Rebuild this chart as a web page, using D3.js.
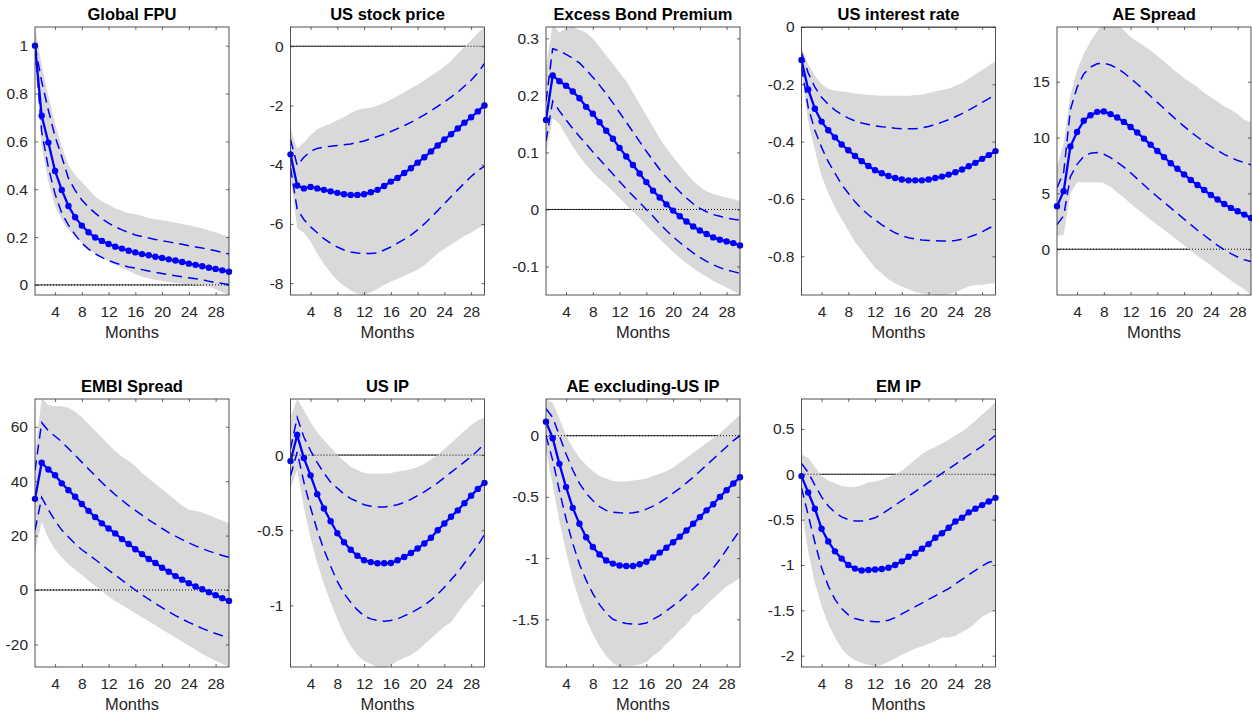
<!DOCTYPE html>
<html>
<head>
<meta charset="utf-8">
<script src="https://cdn.jsdelivr.net/npm/d3@7"></script>
<style>
  body { margin: 0; background: #fff; }
  svg { display: block; font-family: "Liberation Sans", Arial, Helvetica, sans-serif; }
  .tick text { fill: #262626; font-size: 15.5px; }
  .tick line { stroke: #262626; stroke-width: 0.7; }
</style>
</head>
<body>
<script>
// horizon (months)
var months = d3.range(1, 31);
var xTicks = [4, 8, 12, 16, 20, 24, 28];

// Global FPU
var fpuMed  = [1.0,0.707,0.595,0.476,0.397,0.33,0.283,0.248,0.22,0.198,0.184,0.171,0.16,0.152,0.143,0.136,0.129,0.124,0.118,0.113,0.107,0.102,0.096,0.089,0.084,0.078,0.072,0.067,0.061,0.055];
var fpuHi68 = [1.0,0.85,0.73,0.62,0.536,0.445,0.395,0.355,0.325,0.30,0.277,0.258,0.243,0.23,0.219,0.209,0.202,0.196,0.19,0.185,0.18,0.175,0.17,0.164,0.159,0.154,0.148,0.143,0.136,0.129];
var fpuLo68 = [1.0,0.64,0.49,0.38,0.30,0.25,0.21,0.175,0.15,0.13,0.115,0.102,0.092,0.083,0.075,0.07,0.064,0.058,0.053,0.048,0.043,0.038,0.034,0.03,0.026,0.022,0.015,0.01,0.006,0.002];
var fpuHi90 = [1.075,0.92,0.79,0.675,0.58,0.50,0.46,0.43,0.40,0.37,0.35,0.335,0.32,0.31,0.30,0.295,0.288,0.28,0.275,0.27,0.265,0.26,0.255,0.25,0.243,0.236,0.228,0.22,0.21,0.20];
var fpuLo90 = [0.95,0.58,0.43,0.33,0.27,0.23,0.205,0.175,0.15,0.132,0.115,0.1,0.085,0.072,0.058,0.045,0.035,0.027,0.021,0.016,0.012,0.008,0.005,0.003,0.001,-0.002,-0.008,-0.018,-0.03,-0.042];

// US stock price
var stkMed  = [-3.65,-4.7,-4.8,-4.75,-4.8,-4.85,-4.9,-4.95,-5.0,-5.02,-5.02,-5.0,-4.93,-4.85,-4.72,-4.57,-4.45,-4.28,-4.12,-3.93,-3.75,-3.55,-3.35,-3.15,-2.97,-2.78,-2.58,-2.4,-2.2,-2.0];
var stkHi68 = [-3.15,-4.02,-3.75,-3.55,-3.45,-3.4,-3.38,-3.35,-3.33,-3.3,-3.25,-3.2,-3.12,-3.05,-2.97,-2.88,-2.78,-2.68,-2.57,-2.45,-2.32,-2.18,-2.03,-1.88,-1.72,-1.55,-1.35,-1.15,-0.9,-0.58];
var stkLo68 = [-4.1,-5.5,-5.85,-6.1,-6.3,-6.5,-6.65,-6.78,-6.88,-6.95,-6.98,-7.0,-7.0,-6.98,-6.88,-6.78,-6.65,-6.52,-6.38,-6.2,-6.0,-5.78,-5.55,-5.32,-5.08,-4.85,-4.62,-4.4,-4.2,-4.05];
var stkHi90 = [-2.8,-3.45,-3.25,-3.0,-2.8,-2.7,-2.62,-2.5,-2.4,-2.25,-2.15,-2.1,-2.08,-2.0,-1.92,-1.8,-1.68,-1.55,-1.42,-1.3,-1.15,-1.0,-0.85,-0.68,-0.5,-0.25,-0.02,0.2,0.45,0.65];
var stkLo90 = [-4.4,-6.15,-6.3,-6.6,-7.0,-7.35,-7.65,-7.9,-8.1,-8.25,-8.35,-8.4,-8.3,-8.2,-8.05,-7.95,-7.85,-7.75,-7.65,-7.55,-7.4,-7.2,-7.0,-6.85,-6.7,-6.55,-6.4,-6.3,-6.15,-6.05];

// Excess Bond Premium
var ebpMed  = [0.157,0.235,0.225,0.217,0.207,0.195,0.18,0.168,0.153,0.138,0.124,0.108,0.093,0.078,0.063,0.048,0.033,0.021,0.009,-0.002,-0.012,-0.021,-0.03,-0.037,-0.043,-0.049,-0.053,-0.056,-0.059,-0.063];
var ebpHi68 = [0.19,0.282,0.278,0.272,0.265,0.257,0.245,0.232,0.218,0.203,0.187,0.17,0.153,0.136,0.119,0.102,0.086,0.07,0.056,0.043,0.031,0.02,0.01,0.002,-0.004,-0.009,-0.012,-0.015,-0.017,-0.019];
var ebpLo68 = [0.12,0.19,0.173,0.157,0.142,0.128,0.115,0.101,0.088,0.075,0.062,0.049,0.036,0.024,0.012,0.0,-0.012,-0.025,-0.037,-0.048,-0.058,-0.067,-0.076,-0.084,-0.091,-0.097,-0.102,-0.106,-0.109,-0.112];
var ebpHi90 = [0.25,0.325,0.31,0.318,0.32,0.315,0.31,0.3,0.285,0.27,0.255,0.24,0.225,0.205,0.185,0.165,0.145,0.125,0.108,0.092,0.077,0.063,0.05,0.04,0.032,0.027,0.024,0.021,0.018,0.015];
var ebpLo90 = [0.095,0.16,0.15,0.13,0.11,0.093,0.078,0.065,0.053,0.043,0.032,0.02,0.008,-0.004,-0.015,-0.028,-0.04,-0.052,-0.063,-0.074,-0.085,-0.094,-0.103,-0.111,-0.118,-0.125,-0.131,-0.137,-0.143,-0.15];

// US interest rate
var irMed  = [-0.115,-0.218,-0.285,-0.33,-0.36,-0.385,-0.41,-0.43,-0.45,-0.468,-0.485,-0.5,-0.51,-0.52,-0.527,-0.532,-0.535,-0.535,-0.535,-0.532,-0.527,-0.522,-0.515,-0.507,-0.497,-0.486,-0.474,-0.46,-0.447,-0.433];
var irHi68 = [-0.09,-0.16,-0.21,-0.245,-0.27,-0.29,-0.305,-0.318,-0.328,-0.335,-0.34,-0.345,-0.348,-0.35,-0.353,-0.355,-0.355,-0.355,-0.352,-0.347,-0.34,-0.332,-0.323,-0.313,-0.302,-0.29,-0.277,-0.263,-0.25,-0.235];
var irLo68 = [-0.14,-0.28,-0.36,-0.42,-0.47,-0.51,-0.55,-0.58,-0.61,-0.635,-0.655,-0.673,-0.69,-0.705,-0.718,-0.728,-0.735,-0.74,-0.743,-0.745,-0.746,-0.747,-0.747,-0.745,-0.74,-0.733,-0.725,-0.714,-0.702,-0.69];
var irHi90 = [-0.07,-0.13,-0.17,-0.2,-0.215,-0.222,-0.225,-0.228,-0.232,-0.235,-0.237,-0.238,-0.24,-0.24,-0.24,-0.24,-0.24,-0.237,-0.236,-0.23,-0.225,-0.22,-0.215,-0.205,-0.195,-0.18,-0.165,-0.15,-0.135,-0.12];
var irLo90 = [-0.16,-0.33,-0.43,-0.52,-0.58,-0.63,-0.67,-0.71,-0.75,-0.78,-0.81,-0.84,-0.86,-0.88,-0.895,-0.905,-0.915,-0.925,-0.93,-0.932,-0.935,-0.935,-0.932,-0.925,-0.915,-0.905,-0.9,-0.9,-0.895,-0.895];

// AE Spread
var aesMed  = [3.85,5.2,9.2,10.5,11.5,12.0,12.3,12.33,12.1,11.8,11.4,10.95,10.45,9.9,9.35,8.8,8.25,7.7,7.2,6.7,6.2,5.75,5.3,4.85,4.45,4.05,3.7,3.4,3.1,2.8];
var aesHi68 = [5.5,6.9,12.5,14.5,15.7,16.3,16.6,16.65,16.5,16.2,15.8,15.3,14.8,14.25,13.7,13.15,12.6,12.05,11.5,11.0,10.5,10.05,9.6,9.2,8.85,8.5,8.2,7.95,7.75,7.55];
var aesLo68 = [2.2,3.0,6.5,7.6,8.3,8.6,8.65,8.5,8.2,7.8,7.35,6.85,6.3,5.75,5.2,4.7,4.2,3.7,3.2,2.7,2.2,1.7,1.25,0.8,0.35,-0.05,-0.4,-0.7,-0.95,-1.1];
var aesHi90 = [7.4,9.5,13.8,16.0,17.5,18.6,19.5,20.3,20.4,20.2,19.6,19.0,18.6,18.2,17.8,17.3,16.8,16.3,15.8,15.3,14.9,14.5,14.0,13.6,13.2,12.8,12.5,12.1,11.6,11.4];
var aesLo90 = [1.2,1.3,5.0,6.0,6.0,6.0,6.0,5.9,5.6,5.1,4.6,4.1,3.6,3.1,2.65,2.2,1.75,1.3,0.8,0.35,-0.15,-0.6,-1.0,-1.45,-1.9,-2.35,-2.8,-3.2,-3.6,-4.1];

// EMBI Spread
var embiMed  = [33.5,46.8,44.3,42.2,39.2,36.7,34.3,31.6,29.1,26.8,24.5,22.6,20.8,18.7,16.9,15.0,13.2,11.4,9.9,8.2,6.7,5.1,3.8,2.5,1.3,0.3,-0.8,-1.9,-3.0,-4.0];
var embiHi68 = [44,61.5,58.5,56.5,54.5,52,49.5,47,44.5,42,39.5,37.2,35,33,31,29.3,27.5,25.8,24.2,22.6,21.1,19.8,18.5,17.3,16.2,15.2,14.3,13.5,12.7,12.0];
var embiLo68 = [22,34,29.5,25.5,22,19.5,17,14.8,13,11.2,9.3,7.3,5.5,3.6,1.8,0,-1.7,-3.4,-5,-6.5,-8,-9.4,-10.7,-11.9,-13,-14.1,-15.1,-16,-16.8,-17.5];
var embiHi90 = [50,70.5,68,67.5,67.5,67,65.5,63.5,61,58.5,56,53.5,51,49,47.5,45.5,43,41,39,37,35,33,31,29.5,29,28.5,27.5,26.5,25.5,24.5];
var embiLo90 = [14,25,19,15,12,9.5,7.5,5.5,3.5,1.5,-0.5,-2.5,-4,-5.5,-7,-8.5,-10,-11.5,-13,-14.5,-16,-17.5,-19,-20.5,-22,-23.5,-24.8,-26,-27.2,-28.3];

// US IP
var usipMed  = [-0.04,0.133,-0.02,-0.135,-0.26,-0.355,-0.44,-0.52,-0.58,-0.63,-0.67,-0.7,-0.712,-0.72,-0.72,-0.718,-0.7,-0.678,-0.652,-0.622,-0.588,-0.55,-0.5,-0.455,-0.41,-0.368,-0.32,-0.27,-0.225,-0.185];
var usipHi68 = [0.04,0.25,0.12,0.03,-0.05,-0.12,-0.18,-0.22,-0.26,-0.29,-0.31,-0.33,-0.34,-0.345,-0.345,-0.34,-0.33,-0.315,-0.295,-0.27,-0.245,-0.215,-0.185,-0.15,-0.115,-0.08,-0.045,-0.01,0.03,0.075];
var usipLo68 = [-0.14,0.02,-0.18,-0.35,-0.5,-0.63,-0.74,-0.84,-0.92,-0.98,-1.03,-1.07,-1.09,-1.1,-1.105,-1.1,-1.09,-1.07,-1.05,-1.025,-1.0,-0.965,-0.925,-0.88,-0.83,-0.78,-0.72,-0.66,-0.6,-0.53];
var usipHi90 = [0.25,0.375,0.3,0.22,0.15,0.1,0.05,0.0,-0.04,-0.08,-0.1,-0.12,-0.125,-0.125,-0.125,-0.12,-0.11,-0.105,-0.095,-0.08,-0.06,-0.03,0.0,0.04,0.08,0.12,0.16,0.2,0.23,0.25];
var usipLo90 = [-0.22,-0.1,-0.35,-0.55,-0.72,-0.86,-0.98,-1.09,-1.19,-1.27,-1.33,-1.37,-1.39,-1.41,-1.41,-1.4,-1.37,-1.35,-1.33,-1.3,-1.26,-1.22,-1.18,-1.14,-1.11,-1.05,-0.99,-0.94,-0.88,-0.83];

// AE excluding-US IP
var aeipMed  = [0.115,-0.02,-0.23,-0.42,-0.59,-0.72,-0.83,-0.91,-0.97,-1.02,-1.045,-1.06,-1.065,-1.065,-1.05,-1.03,-0.995,-0.955,-0.915,-0.87,-0.825,-0.775,-0.72,-0.665,-0.61,-0.56,-0.5,-0.445,-0.39,-0.34];
var aeipHi68 = [0.22,0.15,0.0,-0.15,-0.28,-0.39,-0.47,-0.53,-0.58,-0.61,-0.625,-0.63,-0.632,-0.63,-0.62,-0.6,-0.575,-0.545,-0.51,-0.47,-0.43,-0.385,-0.34,-0.29,-0.24,-0.19,-0.14,-0.09,-0.04,0.0];
var aeipLo68 = [0.0,-0.2,-0.45,-0.68,-0.88,-1.05,-1.18,-1.29,-1.38,-1.45,-1.5,-1.52,-1.535,-1.54,-1.54,-1.53,-1.5,-1.47,-1.43,-1.39,-1.35,-1.3,-1.25,-1.2,-1.14,-1.08,-1.01,-0.93,-0.85,-0.77];
var aeipHi90 = [0.3,0.27,0.14,0.0,-0.1,-0.18,-0.24,-0.29,-0.33,-0.35,-0.37,-0.375,-0.375,-0.365,-0.36,-0.35,-0.33,-0.31,-0.29,-0.26,-0.22,-0.18,-0.14,-0.1,-0.06,-0.02,0.02,0.07,0.12,0.17];
var aeipLo90 = [-0.12,-0.4,-0.7,-0.95,-1.17,-1.35,-1.5,-1.62,-1.72,-1.8,-1.86,-1.89,-1.88,-1.88,-1.87,-1.85,-1.8,-1.76,-1.7,-1.65,-1.59,-1.54,-1.47,-1.44,-1.38,-1.33,-1.28,-1.23,-1.2,-1.16];

// EM IP
var emipMed  = [-0.02,-0.2,-0.38,-0.6,-0.74,-0.85,-0.93,-1.0,-1.04,-1.06,-1.055,-1.05,-1.045,-1.03,-1.0,-0.96,-0.91,-0.87,-0.82,-0.77,-0.7,-0.65,-0.59,-0.52,-0.48,-0.42,-0.38,-0.34,-0.3,-0.26];
var emipHi68 = [0.12,0.02,-0.12,-0.25,-0.35,-0.42,-0.47,-0.5,-0.515,-0.515,-0.5,-0.48,-0.44,-0.39,-0.34,-0.29,-0.24,-0.19,-0.14,-0.09,-0.04,0.01,0.06,0.11,0.16,0.21,0.26,0.31,0.37,0.43];
var emipLo68 = [-0.15,-0.45,-0.75,-1.03,-1.23,-1.38,-1.48,-1.55,-1.59,-1.61,-1.62,-1.625,-1.625,-1.61,-1.58,-1.54,-1.5,-1.46,-1.42,-1.38,-1.34,-1.3,-1.26,-1.21,-1.16,-1.11,-1.06,-1.01,-0.97,-0.95];
var emipHi90 = [0.22,0.18,0.08,-0.02,-0.07,-0.1,-0.13,-0.14,-0.14,-0.12,-0.09,-0.08,-0.06,-0.03,0.0,0.04,0.1,0.16,0.22,0.27,0.3,0.34,0.38,0.43,0.47,0.53,0.59,0.66,0.72,0.8];
var emipLo90 = [-0.4,-0.85,-1.2,-1.45,-1.65,-1.8,-1.92,-2.0,-2.05,-2.08,-2.1,-2.12,-2.1,-2.07,-2.03,-1.99,-1.96,-1.92,-1.9,-1.87,-1.84,-1.8,-1.8,-1.78,-1.74,-1.7,-1.64,-1.57,-1.53,-1.5];

// panel titles, y-limits and y-ticks
var titles = ["Global FPU", "US stock price", "Excess Bond Premium", "US interest rate", "AE Spread",
              "EMBI Spread", "US IP", "AE excluding-US IP", "EM IP"];
var yLims = [[-0.042, 1.078], [-8.4, 0.65], [-0.15, 0.32], [-0.935, 0], [-4.1, 19.9],
             [-28.3, 70.2], [-1.41, 0.373], [-1.89, 0.3], [-2.125, 0.83]];
var yTicks = [[0, 0.2, 0.4, 0.6, 0.8, 1], [-8, -6, -4, -2, 0], [-0.1, 0, 0.1, 0.2, 0.3],
              [-0.8, -0.6, -0.4, -0.2, 0], [0, 5, 10, 15], [-20, 0, 20, 40, 60],
              [-1, -0.5, 0], [-1.5, -1, -0.5, 0], [-2, -1.5, -1, -0.5, 0, 0.5]];

var series = [
  [fpuMed, fpuHi68, fpuLo68, fpuHi90, fpuLo90],
  [stkMed, stkHi68, stkLo68, stkHi90, stkLo90],
  [ebpMed, ebpHi68, ebpLo68, ebpHi90, ebpLo90],
  [irMed, irHi68, irLo68, irHi90, irLo90],
  [aesMed, aesHi68, aesLo68, aesHi90, aesLo90],
  [embiMed, embiHi68, embiLo68, embiHi90, embiLo90],
  [usipMed, usipHi68, usipLo68, usipHi90, usipLo90],
  [aeipMed, aeipHi68, aeipLo68, aeipHi90, aeipLo90],
  [emipMed, emipHi68, emipLo68, emipHi90, emipLo90]
];

var W = 1252, H = 715;
var panelW = 194, panelH = 268;
var lefts = [35, 290.5, 546, 801.5, 1057];
var tops = [27, 399];

var svg = d3.select("body").append("svg").attr("width", W).attr("height", H);

var fmt = function(v) { return String(Math.round(v * 100) / 100); };

series.forEach(function(s, i) {
  var col = i % 5, row = Math.floor(i / 5);
  var x0 = lefts[col], y0 = tops[row];
  var g = svg.append("g").attr("transform", "translate(" + x0 + "," + y0 + ")");

  var x = d3.scaleLinear().domain([1, 30]).range([0, panelW]);
  var y = d3.scaleLinear().domain(yLims[i]).range([panelH, 0]);

  g.append("clipPath").attr("id", "clip" + i)
    .append("rect").attr("width", panelW).attr("height", panelH);
  var plot = g.append("g").attr("clip-path", "url(#clip" + i + ")");

  var med = s[0], hi68 = s[1], lo68 = s[2], hi90 = s[3], lo90 = s[4];

  // solid zero line under the band, dotted one on top of it
  plot.append("line")
    .attr("x1", 0).attr("x2", panelW).attr("y1", y(0)).attr("y2", y(0))
    .attr("stroke", "#000").attr("stroke-width", 0.8);

  var area = d3.area()
    .x(function(d, k) { return x(months[k]); })
    .y0(function(d, k) { return y(lo90[k]); })
    .y1(function(d, k) { return y(hi90[k]); });
  plot.append("path").datum(months).attr("d", area).attr("fill", "#d9d9d9");

  plot.append("line")
    .attr("x1", 0).attr("x2", panelW).attr("y1", y(0)).attr("y2", y(0))
    .attr("stroke", "#000").attr("stroke-width", 1).attr("stroke-dasharray", "1,2");

  var line = d3.line()
    .x(function(d, k) { return x(months[k]); })
    .y(function(d) { return y(d); });

  [hi68, lo68].forEach(function(b) {
    plot.append("path").datum(b).attr("d", line)
      .attr("fill", "none").attr("stroke", "#0000ff")
      .attr("stroke-width", 1.5).attr("stroke-dasharray", "10,6");
  });

  plot.append("path").datum(med).attr("d", line)
    .attr("fill", "none").attr("stroke", "#0000ff").attr("stroke-width", 2.3);

  g.selectAll(".dot").data(med).enter().append("circle")
    .attr("cx", function(d, k) { return x(months[k]); })
    .attr("cy", function(d) { return y(d); })
    .attr("r", 3.2).attr("fill", "#0000ff");

  // axes, ticks pointing inward
  var ax = g.append("g").attr("transform", "translate(0," + panelH + ")")
    .call(d3.axisBottom(x).tickValues(xTicks).tickSize(-3).tickPadding(11).tickFormat(d3.format("d")));
  var axT = g.append("g").call(d3.axisTop(x).tickValues(xTicks).tickSize(-3).tickFormat(""));
  var ay = g.append("g")
    .call(d3.axisLeft(y).tickValues(yTicks[i]).tickSize(-3).tickPadding(7).tickFormat(fmt));
  var ayR = g.append("g").attr("transform", "translate(" + panelW + ",0)")
    .call(d3.axisRight(y).tickValues(yTicks[i]).tickSize(-3).tickFormat(""));
  [ax, axT, ay, ayR].forEach(function(a) {
    a.select(".domain").remove();
    a.selectAll(".tick text").attr("font-family", null).attr("font-size", null);
  });

  g.append("rect").attr("width", panelW).attr("height", panelH)
    .attr("fill", "none").attr("stroke", "#262626").attr("stroke-width", 0.8);

  g.append("text").attr("x", panelW / 2).attr("y", -7)
    .attr("text-anchor", "middle").attr("font-size", 16.5).attr("font-weight", "bold")
    .attr("fill", "#000").text(titles[i]);

  g.append("text").attr("x", panelW / 2).attr("y", panelH + 43)
    .attr("text-anchor", "middle").attr("font-size", 16.5)
    .attr("fill", "#262626").text("Months");
});
</script>
</body>
</html>
